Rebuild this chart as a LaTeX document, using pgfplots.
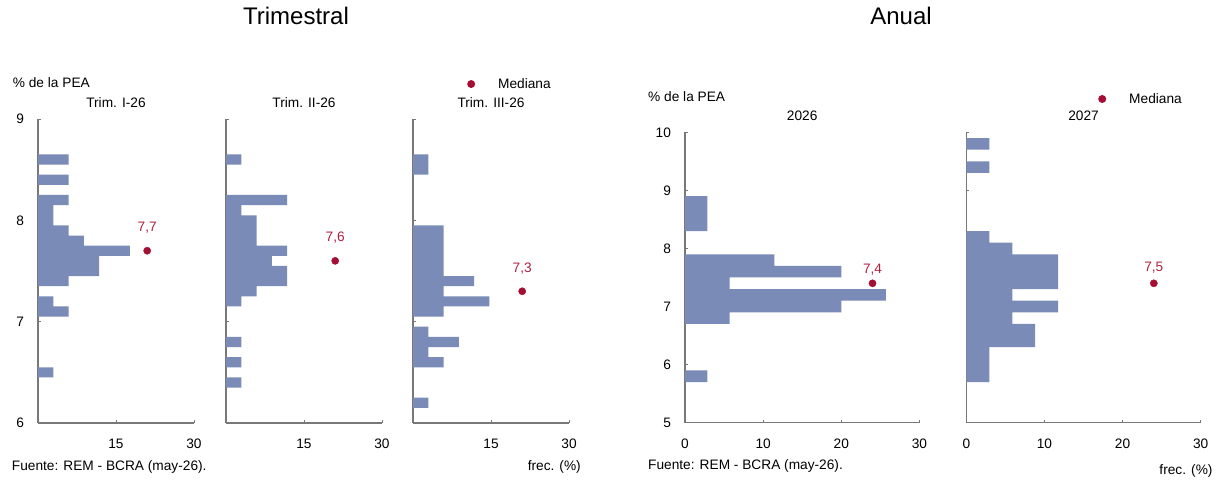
\documentclass[border=0pt]{standalone}
\usepackage{fontspec}
\setmainfont{Liberation Sans}
\usepackage{pgfplots}
\pgfplotsset{compat=1.18}
\definecolor{barc}{RGB}{122,139,184}
\definecolor{medc}{RGB}{163,14,50}
\definecolor{labc}{RGB}{176,32,64}
\definecolor{axc}{RGB}{120,120,120}
\newcommand{\fs}{\fontsize{13.7bp}{16bp}\selectfont}
\newcommand{\fb}{\fontsize{24bp}{28bp}\selectfont}
\pgfplotsset{
  hist/.style={
    scale only axis, clip=false,
    axis lines=left, axis line style={axc, line width=1.1bp, -},
    xmin=0, xmax=30,
    tick align=inside, major tick length=3bp,
    tick style={axc, line width=0.8bp},
    tick label style={font=\fs, text=black},
    /pgf/number format/assume math mode=true,
    xticklabel style={yshift=-12.5bp},
    yticklabel style={xshift=-10.5bp},
    title style={font=\fs, at={(0.5,1)}, anchor=base, inner sep=0pt, yshift=6bp},
    legend style={draw=none, fill=none, inner sep=0pt, font=\fs, anchor=west},
    legend cell align=left,
    legend image code/.code={\path[draw=none] (-4bp,0bp) -- (25bp,0bp); \fill[medc, draw=none] (0bp,0bp) circle (4bp);},
  },
  trim/.style={hist, ymin=6, ymax=9, ytick={6,7,8,9}, xtick={15,30},
    width=156bp, height=304bp},
  anual/.style={hist, ymin=5, ymax=10, ytick={5,6,7,8,9,10}, xtick={0,10,20,30},
    width=234.4bp, height=290.4bp},
  hbars/.style={xbar, bar shift=0pt, fill=barc, draw=none, forget plot},
  med/.style={only marks, mark=*, mark size=3.6bp, color=medc, mark options={draw=medc, fill=medc}},
}
\begin{document}
\begin{tikzpicture}
\useasboundingbox (0bp,0bp) rectangle (1223bp,481bp);

% ---------- Trimestral ----------
\node[anchor=base, font=\fb, inner sep=0pt] at (296bp,456bp) {Trimestral};
\node[anchor=base west, font=\fs, inner sep=0pt] at (12.7bp,393bp) {\% de la PEA};
\node[anchor=base west, font=\fs, inner sep=0pt] at (11.7bp,11bp) {Fuente: REM - BCRA (may-26).};
\node[anchor=base east, font=\fs, inner sep=0pt] at (581bp,11bp) {frec. (\%)};

\begin{axis}[trim, at={(38bp,58bp)}, anchor=south west, title={Trim. I-26}]
\addplot[hbars, bar width=0.1] coordinates {
 (5.88,8.6) (5.88,8.4) (5.88,8.2) (2.94,8.1) (2.94,8.0) (5.88,7.9) (8.82,7.8)
 (17.65,7.7) (11.76,7.6) (11.76,7.5) (5.88,7.4) (2.94,7.2) (5.88,7.1) (2.94,6.5)};
\addplot[med] coordinates {(21,7.7)};
\node[anchor=base, font=\fs, text=labc, inner sep=0pt, yshift=19bp] at (axis cs:21,7.7) {7,7};
\end{axis}

\begin{axis}[trim, at={(226bp,58bp)}, anchor=south west, title={Trim. II-26}, yticklabels={}]
\addplot[hbars, bar width=0.1] coordinates {
 (2.94,8.6) (11.76,8.2) (2.94,8.1) (5.88,8.0) (5.88,7.9) (5.88,7.8) (11.76,7.7)
 (8.82,7.6) (11.76,7.5) (11.76,7.4) (5.88,7.3) (2.94,7.2) (2.94,6.8) (2.94,6.6) (2.94,6.4)};
\addplot[med] coordinates {(21,7.6)};
\node[anchor=base, font=\fs, text=labc, inner sep=0pt, yshift=19bp] at (axis cs:21,7.6) {7,6};
\end{axis}

\begin{axis}[trim, at={(413bp,58bp)}, anchor=south west, title={Trim. III-26}, yticklabels={},
  legend style={at={(0.346,1.115)}}]
\addplot[hbars, bar width=0.1] coordinates {
 (2.94,8.6) (2.94,8.5) (5.88,7.9) (5.88,7.8) (5.88,7.7) (5.88,7.6) (5.88,7.5)
 (11.76,7.4) (5.88,7.3) (14.71,7.2) (5.88,7.1) (2.94,6.9) (8.82,6.8) (2.94,6.7)
 (5.88,6.6) (2.94,6.2)};
\addplot[med] coordinates {(21,7.3)};
\addlegendentry{Mediana}
\node[anchor=base, font=\fs, text=labc, inner sep=0pt, yshift=19bp] at (axis cs:21,7.3) {7,3};
\end{axis}

% ---------- Anual ----------
\node[anchor=base, font=\fb, inner sep=0pt] at (901bp,456bp) {Anual};
\node[anchor=base west, font=\fs, inner sep=0pt] at (648bp,379bp) {\% de la PEA};
\node[anchor=base west, font=\fs, inner sep=0pt] at (648bp,11.7bp) {Fuente: REM - BCRA (may-26).};
\node[anchor=base east, font=\fs, inner sep=0pt] at (1212.7bp,7bp) {frec. (\%)};

\begin{axis}[anual, at={(685bp,58.3bp)}, anchor=south west, title={2026}]
\addplot[hbars, bar width=0.2] coordinates {
 (2.857,8.8) (2.857,8.6) (2.857,8.4) (11.43,7.8) (20,7.6) (5.71,7.4)
 (25.71,7.2) (20,7.0) (5.71,6.8) (2.857,5.8)};
\addplot[med] coordinates {(24,7.4)};
\node[anchor=base, font=\fs, text=labc, inner sep=0pt, yshift=9.5bp] at (axis cs:24,7.4) {7,4};
\end{axis}

\begin{axis}[anual, at={(966.3bp,58.3bp)}, anchor=south west, title={2027}, yticklabels={},
  legend style={at={(0.562,1.1147)}}]
\addplot[hbars, bar width=0.2] coordinates {
 (2.94,9.8) (2.94,9.4) (2.94,8.2) (5.88,8.0) (11.76,7.8) (11.76,7.6) (11.76,7.4)
 (5.88,7.2) (11.76,7.0) (5.88,6.8) (8.82,6.6) (8.82,6.4) (2.94,6.2) (2.94,6.0) (2.94,5.8)};
\addplot[med] coordinates {(24,7.4)};
\addlegendentry{Mediana}
\node[anchor=base, font=\fs, text=labc, inner sep=0pt, yshift=12bp] at (axis cs:24,7.4) {7,5};
\end{axis}
\end{tikzpicture}
\end{document}
